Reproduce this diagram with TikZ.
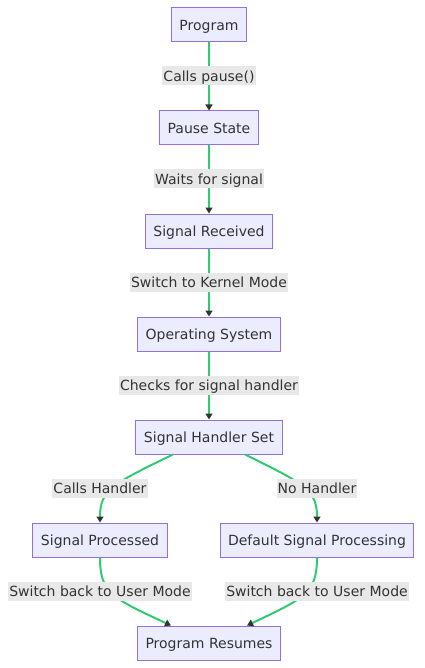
\documentclass[tikz,border=0pt]{standalone}
\usepackage{fontspec}
\setmainfont{DejaVu Sans}
\usetikzlibrary{arrows.meta,calc}
\definecolor{nodefill}{HTML}{ECECFF}
\definecolor{nodeborder}{HTML}{9370DB}
\definecolor{edgegreen}{HTML}{2ECC71}
\definecolor{labelbg}{HTML}{E8E8E8}
\definecolor{txt}{HTML}{333333}
\begin{document}
\begin{tikzpicture}[x=1pt,y=-1pt,
  box/.style={draw=nodeborder,fill=nodefill,line width=1pt,minimum height=34pt,inner xsep=8pt,inner ysep=0pt,text height=13.5pt,text depth=2.5pt,text=txt,font=\fontsize{14}{16}\selectfont},
  lab/.style={fill=labelbg,inner xsep=1pt,inner ysep=1.5pt,text height=13.5pt,text depth=2.5pt,text=txt,font=\fontsize{14}{16}\selectfont},
  edge/.style={draw=edgegreen,line width=2pt,-{Triangle[length=6pt,width=7pt,color=txt]}}]
\useasboundingbox (0,0) rectangle (424,668);
\node[box] (p) at (209,25) {Program};
\node[box] (ps) at (209,128) {Pause State};
\node[box] (sr) at (209,231) {Signal Received};
\node[box] (os) at (209,334) {Operating System};
\node[box] (h) at (209,437) {Signal Handler Set};
\node[box] (sp) at (100,540) {Signal Processed};
\node[box] (dp) at (317,540) {Default Signal Processing};
\node[box] (pr) at (209,643) {Program Resumes};

\draw[edge] (p) -- (ps);
\draw[edge] (ps) -- (sr);
\draw[edge] (sr) -- (os);
\draw[edge] (os) -- (h);
\draw[edge] ($(h.south)+(-36,0)$) .. controls (112,484) and (100,490) .. (sp.north);
\draw[edge] ($(h.south)+(36,0)$) .. controls (305,484) and (317,490) .. (dp.north);
\draw[edge] (sp.south) .. controls (100,593) and (112,598) .. ($(pr.north)+(-38,0)$);
\draw[edge] (dp.south) .. controls (317,593) and (305,598) .. ($(pr.north)+(38,0)$);

\node[lab] (l1) at (209,76) {Calls pause()};
\node[lab] (l2) at (209,179) {Waits for signal};
\node[lab] (l3) at (209,282) {Switch to Kernel Mode};
\node[lab] (l4) at (209,385) {Checks for signal handler};
\node[lab] (l5) at (100,488) {Calls Handler};
\node[lab] (l6) at (317,488) {No Handler};
\node[lab] (l7) at (100,591) {Switch back to User Mode};
\node[lab] (l8) at (317,591) {Switch back to User Mode};
\end{tikzpicture}
\end{document}
